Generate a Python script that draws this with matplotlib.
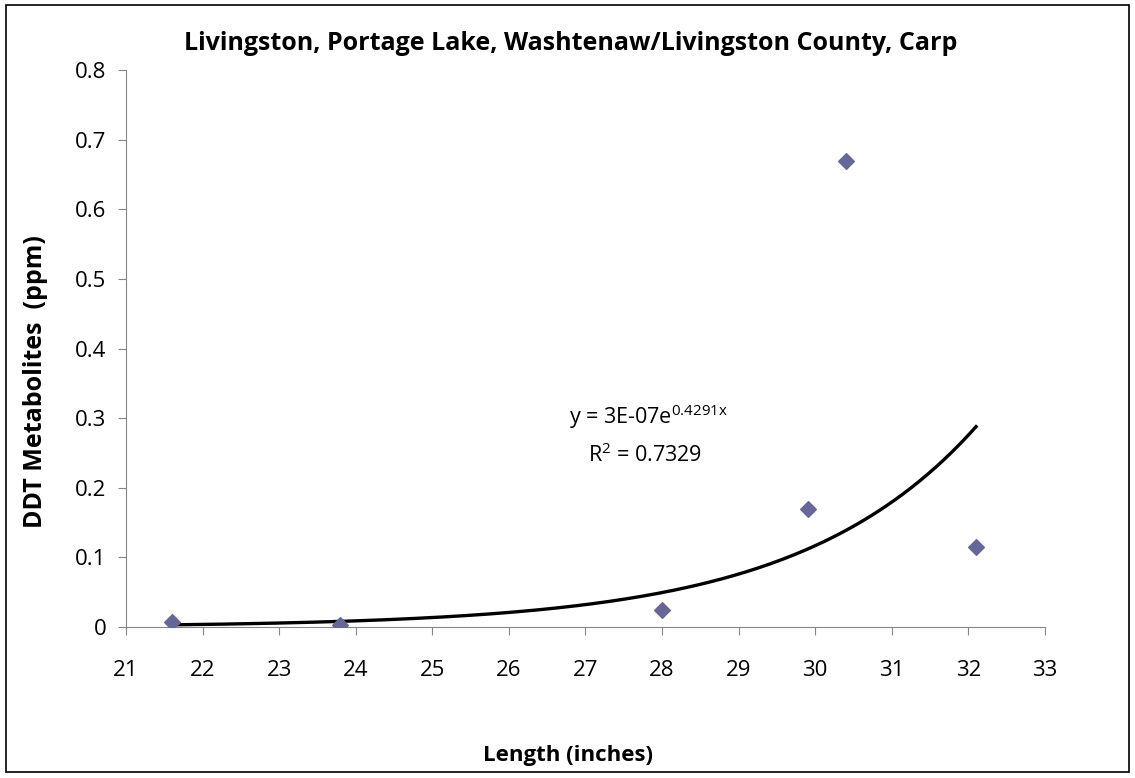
import numpy as np
import matplotlib.pyplot as plt

# fish length (inches) vs DDT metabolites (ppm)
length = [21.6, 23.8, 28.0, 29.9, 30.4, 32.1]
ddt = [0.007, 0.003, 0.025, 0.17, 0.67, 0.115]

# exponential trendline y = a*e^(b*x)
a = 3e-07
b = 0.4291
r2 = 0.7329

plt.rcParams['font.family'] = ['Open Sans', 'DejaVu Sans']
plt.rcParams['mathtext.fontset'] = 'custom'
plt.rcParams['mathtext.rm'] = 'Open Sans'

fig = plt.figure(figsize=(11.35, 7.78), dpi=100)
ax = fig.add_axes([0.111, 0.194, 0.8097, 0.716])

ax.scatter(length, ddt, marker='D', s=64, color='#666699', zorder=3)

xs = np.linspace(min(length), max(length), 200)
ax.plot(xs, a * np.exp(b * xs), color='black', lw=2.4, zorder=2)

ax.text(27.82, 0.302, 'y = 3E-07e$\\mathregular{^{%.4fx}}$' % b, ha='center', va='center', fontsize=15.5)
ax.text(27.78, 0.247, 'R$\\mathregular{^{2}}$ = %.4f' % r2, ha='center', va='center', fontsize=15.5)

ax.set_xlim(21, 33)
ax.set_ylim(0, 0.8)
ax.set_xticks(range(21, 34))
ax.set_yticks(np.arange(0, 0.81, 0.1))
ax.set_yticklabels(['0', '0.1', '0.2', '0.3', '0.4', '0.5', '0.6', '0.7', '0.8'])

for side in ['top', 'right']:
    ax.spines[side].set_visible(False)
for side in ['left', 'bottom']:
    ax.spines[side].set_color('#868686')
ax.tick_params(axis='both', direction='out', length=6, color='#868686', labelsize=16, pad=8)
ax.tick_params(axis='x', pad=18)

fig.text(0.503, 0.944, 'Livingston, Portage Lake, Washtenaw/Livingston County, Carp',
         ha='center', va='center', fontsize=18, fontweight='bold')
ax.set_xlabel('Length (inches)', fontsize=16, fontweight='bold', va='center')
ax.xaxis.set_label_coords(0.481, -0.23)
ax.set_ylabel('DDT Metabolites  (ppm)', fontsize=18, fontweight='bold', va='center', ha='center')
ax.yaxis.set_label_coords(-0.098, 0.44)

# border around the whole chart
fig.patches.append(plt.Rectangle((0.005, 0.008), 0.99, 0.985, transform=fig.transFigure,
                                 fill=False, edgecolor='black', lw=1.2))

fig.savefig('out.png', dpi=100)
